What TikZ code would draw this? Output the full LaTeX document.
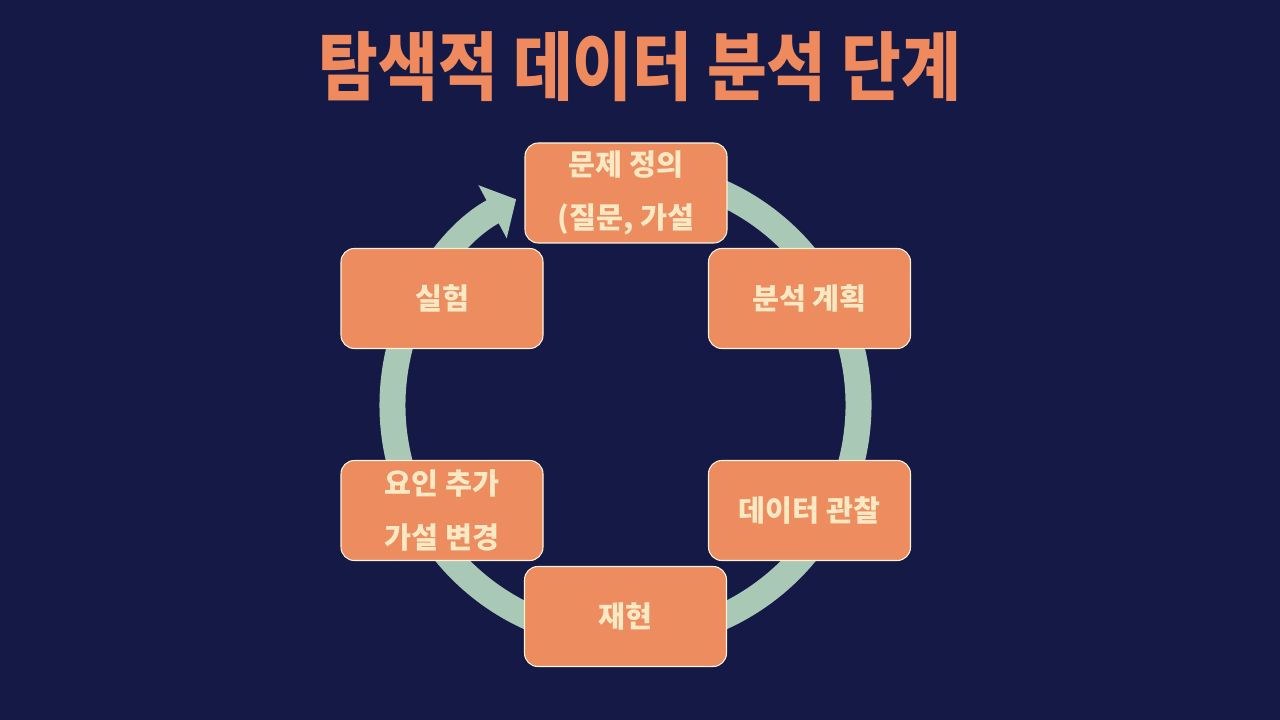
\documentclass[tikz,border=0pt]{standalone}
\usepackage{fontspec}
\usepackage{graphicx}
\newfontfamily\kr{Noto Sans CJK KR}
\usetikzlibrary{arrows.meta}
\definecolor{bgc}{HTML}{141A45}
\definecolor{boxc}{HTML}{EC8C5F}
\definecolor{txtc}{HTML}{FCE9C4}
\definecolor{ringc}{HTML}{A9C8B5}
\definecolor{titlec}{HTML}{EE8A5D}
\tikzset{
  stagebox/.style={draw=txtc!60!white, line width=0.8pt, fill=boxc, rounded corners=10pt,
    minimum width=151.5pt, minimum height=75pt, inner sep=0pt, align=center,
    text=txtc, font=\kr\bfseries\fontsize{22pt}{40pt}\selectfont},
  ring/.style={draw=ringc, line width=19.5pt},
}
\begin{document}
\begin{tikzpicture}[x=0.75pt,y=-0.75pt]
\fill[bgc] (0,0) rectangle (1280,720);
\useasboundingbox (0,0) rectangle (1280,720);
\node[text=titlec, inner sep=0pt] (title) at (640,67)
  {\scalebox{0.87}[1]{\kr\bfseries\fontsize{56pt}{56pt}\selectfont 탐색적 데이터 분석 단계}};
\coordinate (c) at (625.5,405);
\draw[ring, -{Triangle[width=44pt,length=20pt]}] ([shift={(-80:233)}]c) arc[start angle=-80, end angle=242, radius=233];
\node[stagebox] (s1) at (626,193) {문제 정의\\(질문, 가설};
\node[stagebox] (s2) at (809.5,298.5) {분석 계획};
\node[stagebox] (s3) at (809.5,510.5) {데이터 관찰};
\node[stagebox] (s4) at (625.5,616.5) {재현};
\node[stagebox] (s5) at (442,510.5) {요인 추가\\가설 변경};
\node[stagebox] (s6) at (442,298.5) {실험};
\end{tikzpicture}
\end{document}
